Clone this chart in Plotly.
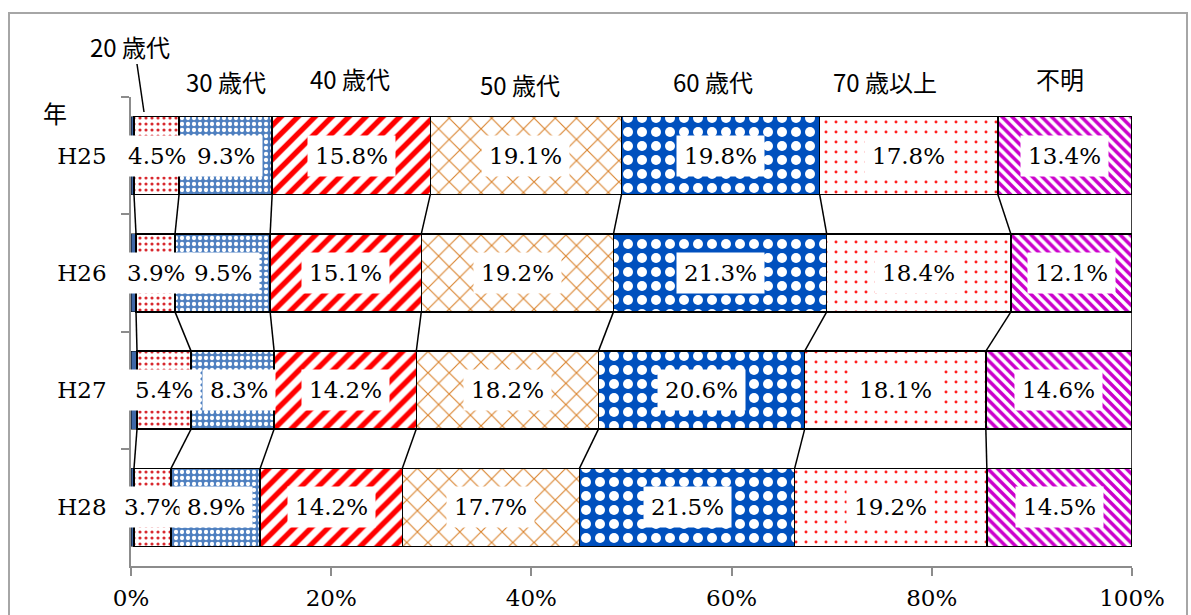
import plotly.graph_objects as go
import numpy as np

years = ["H25", "H26", "H27", "H28"]
series_names = ["10歳代", "20歳代", "30歳代", "40歳代", "50歳代", "60歳代", "70歳以上", "不明"]
v_10s = [0.3, 0.5, 0.6, 0.3]
v_20s = [4.5, 3.9, 5.4, 3.7]
v_30s = [9.3, 9.5, 8.3, 8.9]
v_40s = [15.8, 15.1, 14.2, 14.2]
v_50s = [19.1, 19.2, 18.2, 17.7]
v_60s = [19.8, 21.3, 20.6, 21.5]
v_70s = [17.8, 18.4, 18.1, 19.2]
v_unk = [13.4, 12.1, 14.6, 14.5]
top_labels = ["20 歳代", "30 歳代", "40 歳代", "50 歳代", "60 歳代", "70 歳以上", "不明"]
x_ticks = [0, 20, 40, 60, 80, 100]

series = [v_10s, v_20s, v_30s, v_40s, v_50s, v_60s, v_70s, v_unk]

patterns = [
    dict(shape="", bgcolor="#3F68A8", fgcolor="#3F68A8", fgopacity=1),
    dict(shape=".", bgcolor="white", fgcolor="#D8282E", size=6, solidity=0.22, fgopacity=1),
    dict(shape=".", bgcolor="#4F80C0", fgcolor="white", size=6, solidity=0.4, fgopacity=1),
    dict(shape="/", bgcolor="white", fgcolor="#FF0000", size=12, solidity=0.45, fgopacity=1),
    dict(shape="x", bgcolor="white", fgcolor="#DA8530", size=15, solidity=0.15, fgopacity=1),
    dict(shape=".", bgcolor="#0050BE", fgcolor="white", size=14, solidity=0.4, fgopacity=1),
    dict(shape=".", bgcolor="white", fgcolor="#FF2020", size=10, solidity=0.07, fgopacity=1),
    dict(shape="\\", bgcolor="white", fgcolor="#CC00CC", size=7, solidity=0.5, fgopacity=1),
]
colors = ["#3F68A8", "white", "#4F80C0", "white", "white", "#0050BE", "white", "white"]
line_widths = [0.5, 1.5, 1.5, 1.5, 1.5, 1.5, 1.5, 1.5]

BARGAP = 0.335
fig = go.Figure()
for name, vals, pat, col, lw in zip(series_names, series, patterns, colors, line_widths):
    fig.add_trace(go.Bar(
        y=years, x=vals, name=name, orientation="h",
        marker=dict(color=col, pattern=pat, line=dict(color="black", width=lw)),
        hoverinfo="x+name",
    ))

arr = np.array(series)  # (8, 4)
cum_end = np.cumsum(arr, axis=0)
cum_start = cum_end - arr

annotations = []
serif = dict(family="DejaVu Serif", size=23, color="black")
for k in range(1, len(series)):
    for i, yr in enumerate(years):
        v = arr[k, i]
        xs = 0
        if yr == "H27" and k == 2:
            xs = 6
        annotations.append(dict(
            x=cum_start[k, i] + v / 2, y=yr, xref="x", yref="y",
            text=f"{v:.1f}%", showarrow=False, font=serif,
            bgcolor="white", borderpad=7, xshift=xs,
        ))

# pixel -> paper helpers
L, R, T, B = 131, 1132, 97, 566
def px(x):
    return (x - L) / (R - L)
def py(y):
    return (B - y) / (B - T)

sans = dict(family="Noto Sans CJK JP", size=24, color="black")
label_pos = [(130, 46), (226, 81), (350, 79), (520, 84), (713, 82), (885, 82), (1060, 79)]
for txt, (lx, ly) in zip(top_labels, label_pos):
    annotations.append(dict(x=px(lx), y=py(ly), xref="paper", yref="paper",
                            text=txt, showarrow=False, font=sans,
                            xanchor="center", yanchor="middle"))
annotations.append(dict(x=px(55), y=py(112), xref="paper", yref="paper",
                        text="年", showarrow=False, font=sans,
                        xanchor="center", yanchor="middle"))

shapes = []
h = (1 - BARGAP) / 2
for i in range(len(years) - 1):
    for k in range(len(series)):
        shapes.append(dict(type="line", xref="x", yref="y",
                           x0=cum_end[k, i], y0=i + h,
                           x1=cum_end[k, i + 1], y1=i + 1 - h,
                           line=dict(color="black", width=1.5)))
# leader line for 20歳代
shapes.append(dict(type="line", xref="paper", yref="paper",
                   x0=px(137), y0=py(64), x1=px(144), y1=py(112),
                   line=dict(color="black", width=1.5)))
# outer frame
shapes.append(dict(type="rect", xref="paper", yref="paper",
                   x0=px(9), y0=py(640), x1=px(1187), y1=py(13),
                   line=dict(color="#A6A6A6", width=2), fillcolor="rgba(0,0,0,0)"))

fig.update_layout(
    width=1191, height=615,
    margin=dict(l=L, r=1191 - R, t=T, b=615 - B),
    barmode="stack", bargap=BARGAP,
    showlegend=False,
    paper_bgcolor="white", plot_bgcolor="white",
    annotations=annotations, shapes=shapes,
    xaxis=dict(range=[0, 100], tickvals=x_ticks, ticktext=[f"{t}%" for t in x_ticks],
               showgrid=False, zeroline=False, showline=True, linecolor="#8C8C8C",
               linewidth=1.5, ticks="outside", ticklen=8, tickcolor="#8C8C8C",
               tickwidth=1.5, tickfont=serif, ticklabelstandoff=3, automargin=False),
    yaxis=dict(range=[3.5, -0.5], showgrid=False, zeroline=False, showline=True,
               linecolor="#8C8C8C", linewidth=1.5, ticks="outside", ticklen=8,
               tickcolor="#8C8C8C", tickwidth=1.5, tickson="boundaries",
               tickfont=serif, ticklabelstandoff=18, automargin=False),
)

fig.write_html("out.html")
